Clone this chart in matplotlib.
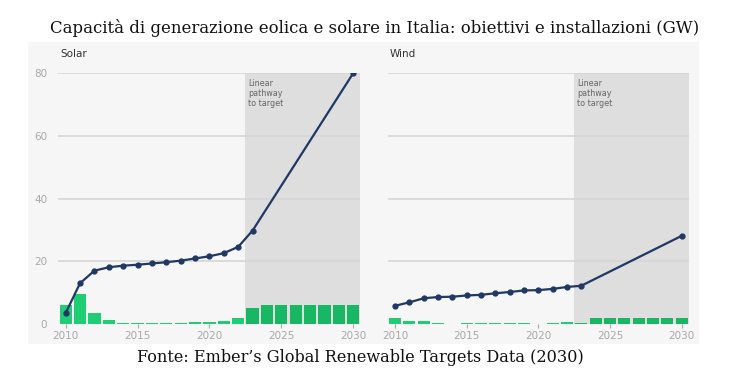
import numpy as np
import matplotlib.pyplot as plt
from matplotlib.patches import Rectangle

# data
years = np.arange(2010, 2031)
line_years = list(range(2010, 2024)) + [2030]

solar_capacity = [3.5, 13.0, 17.0, 18.1, 18.6, 18.9, 19.3, 19.7, 20.2, 20.9,
                  21.6, 22.6, 24.6, 29.8, 80.0]
solar_added = [6.2, 9.5, 3.5, 1.3, 0.3, 0.2, 0.3, 0.4, 0.4, 0.7, 0.7, 0.9,
               1.9, 5.2, 6.2, 6.2, 6.2, 6.2, 6.2, 6.2, 6.2]

wind_capacity = [5.8, 6.9, 8.2, 8.6, 8.7, 9.1, 9.3, 9.8, 10.2, 10.7, 10.8,
                 11.2, 11.8, 12.2, 28.1]
wind_added = [1.8, 1.1, 1.1, 0.3, 0.1, 0.3, 0.2, 0.2, 0.4, 0.4, 0.1, 0.2,
              0.5, 0.4, 2.0, 2.0, 2.0, 2.0, 2.0, 2.0, 2.0]

y_ticks = [0, 20, 40, 60, 80]
x_ticks = [2010, 2015, 2020, 2025, 2030]

title = "Capacità di generazione eolica e solare in Italia: obiettivi e installazioni (GW)"
source = "Fonte: Ember\u2019s Global Renewable Targets Data (2030)"

PANEL = "#f6f6f6"
SHADE = "#dedede"
GRID = "#d6d6d6"
NAVY = "#1f3864"
GREEN_HIST = "#1fcd74"
GREEN_PATH = "#17b763"
TICK = "#a8a8a8"

fig = plt.figure(figsize=(7.42, 3.86), dpi=100)
fig.patches.append(Rectangle((28 / 742, 1 - 344 / 386), 671 / 742, 302 / 386,
                             transform=fig.transFigure, facecolor=PANEL,
                             edgecolor="none", zorder=-5))

ax_s = fig.add_axes([0.0788, 0.1606, 0.407, 0.650])
ax_w = fig.add_axes([0.5226, 0.1606, 0.4057, 0.650])


def draw_panel(ax, name, capacity, added, show_ylabels):
    ax.set_facecolor(PANEL)
    ax.patch.set_alpha(0)
    ax.axvspan(2022.5, 2030.5, color=SHADE, zorder=0, lw=0)
    for y in y_ticks[1:]:
        ax.axhline(y, color=GRID, lw=1.2, zorder=1)
    colors = [GREEN_HIST if yr < 2023 else GREEN_PATH for yr in years]
    ax.bar(years, added, width=0.85, color=colors, zorder=2)
    ax.plot(line_years, capacity, color=NAVY, lw=1.6, marker="o",
            markersize=3.5, zorder=3)
    ax.set_xlim(2009.5, 2030.5)
    ax.set_ylim(0, 80)
    ax.set_xticks(x_ticks)
    ax.set_yticks(y_ticks)
    for s in ax.spines.values():
        s.set_visible(False)
    ax.tick_params(axis="x", colors=TICK, labelsize=7.5, length=3, width=0.8,
                   pad=2)
    ax.tick_params(axis="y", colors=TICK, labelsize=7.5, length=0, pad=8)
    if not show_ylabels:
        ax.set_yticklabels([])
    ax.text(2009.6, 86, name, fontsize=7.5, color="#333333", va="center")
    ax.text(2022.7, 78, "Linear\npathway\nto target", fontsize=5.8,
            color="#666666", va="top", linespacing=1.15)


draw_panel(ax_s, "Solar", solar_capacity, solar_added, True)
draw_panel(ax_w, "Wind", wind_capacity, wind_added, False)

fig.text(0.505, 1 - 28 / 386, title, ha="center", va="center",
         fontsize=11.9, family="DejaVu Serif", color="#111111")
fig.text(0.486, 1 - 358 / 386, source, ha="center", va="center",
         fontsize=11.6, family="DejaVu Serif", color="#111111")

fig.savefig("out.png", dpi=100, facecolor="white")
